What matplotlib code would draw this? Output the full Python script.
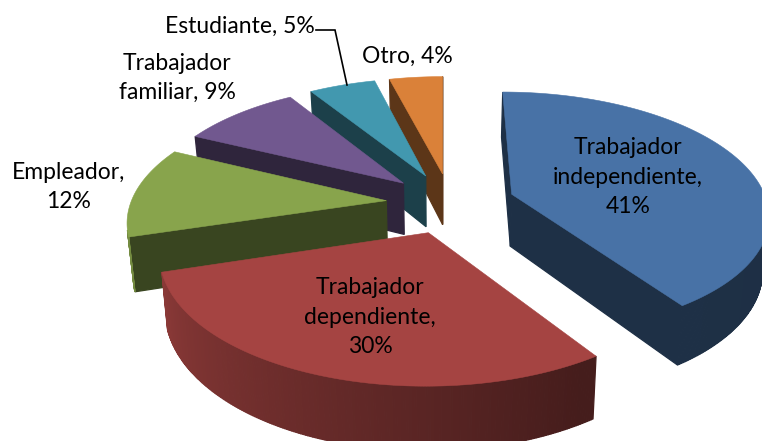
import numpy as np
import matplotlib
matplotlib.use("Agg")
import matplotlib.pyplot as plt
from matplotlib.patches import Polygon

categories = ["Trabajador\nindependiente,", "Trabajador\ndependiente,", "Empleador,",
              "Trabajador\nfamiliar,", "Estudiante,", "Otro,"]
shares = [41, 30, 12, 9, 5, 4]
top_colors = ["#4872A6", "#A54442", "#88A44C", "#71588F", "#4298AF", "#DA8139"]

# perspective pie geometry (pixels)
RADIUS, EXPLODE, HEIGHT = 253.0, 64.0, 52.0
CX, Y0, HORIZON, K = 443.0, 195.0, -590.0, 0.15 / 253.0
OFF_X, OFF_Y = 7.5, 17.0
X_SHRINK = 0.02


def project(X, Y, z=0.0):
    s = 1.0 / (1.0 - K * np.asarray(Y, float))
    x = CX + np.asarray(X, float) * s * (1 - X_SHRINK * z / HEIGHT)
    return x, HORIZON + (Y0 - HORIZON + z) * s


def mix(color, f):
    return tuple(c * f for c in matplotlib.colors.to_rgb(color))


def side_factor(deg):
    return float(np.interp(deg, [0, 150, 256, 360], [0.40, 0.42, 0.85, 0.85]))


def area(p):
    x, y = p[:, 0], p[:, 1]
    return 0.5 * np.sum(x * np.roll(y, -1) - y * np.roll(x, -1))


fig = plt.figure(figsize=(7.62, 4.41), dpi=100)
ax = fig.add_axes([0, 0, 1, 1])
ax.set_xlim(0, 762)
ax.set_ylim(441, 0)
ax.axis("off")

edges = np.concatenate([[0], np.cumsum(shares)]) / np.sum(shares) * 360.0
mids = (edges[:-1] + edges[1:]) / 2
order = sorted(range(len(shares)), key=lambda i: np.cos(np.radians(mids[i])), reverse=True)

for i in order:
    a0, a1 = edges[i], edges[i + 1]
    m = np.radians(mids[i])
    ax0 = OFF_X + EXPLODE * np.sin(m)
    ay0 = OFF_Y - EXPLODE * np.cos(m)
    th = np.linspace(a0, a1, max(8, int(a1 - a0) * 2))
    X = ax0 + RADIUS * np.sin(np.radians(th))
    Y = ay0 - RADIUS * np.cos(np.radians(th))
    top = np.column_stack(project(np.r_[ax0, X], np.r_[ay0, Y]))
    bot = np.column_stack(project(np.r_[ax0, X], np.r_[ay0, Y], HEIGHT))
    n = len(top)
    faces = [(np.array([top[0], top[1], bot[1], bot[0]]), 0.42),
             (np.array([top[-1], top[0], bot[0], bot[-1]]), 0.42)]
    for j in range(1, n - 1):
        faces.append((np.array([top[j], top[j + 1], bot[j + 1], bot[j]]),
                      side_factor((th[j - 1] + th[j]) / 2)))
    sign_ref = area(top)
    # a face shares an edge with the top in the same direction: visible if opposite winding
    visible = [f for f in faces if area(f[0]) * sign_ref < 0]
    for poly, f in visible:
        c = mix(top_colors[i], f)
        ax.add_patch(Polygon(poly, closed=True, facecolor=c, edgecolor=c, lw=0.9))
    ax.add_patch(Polygon(top, closed=True, facecolor=top_colors[i],
                         edgecolor=top_colors[i], lw=0.4))

# labels
label_seps = ["\n", "\n", "\n", " ", " ", " "]
label_pos = [(628, 177), (370, 317), (69, 187), (177, 78), (240, 26), (407, 56)]
for cat, val, sep, (x, y) in zip(categories, shares, label_seps, label_pos):
    ax.text(x, y, f"{cat}{sep}{val}%", ha="center", va="center", fontsize=16.5,
            family=["Lato", "DejaVu Sans"], color="black", linespacing=1.48)

ax.plot([316, 335, 347], [30, 30, 85], color="black", lw=1.2, solid_joinstyle="miter")

fig.savefig("out.png", dpi=100)
